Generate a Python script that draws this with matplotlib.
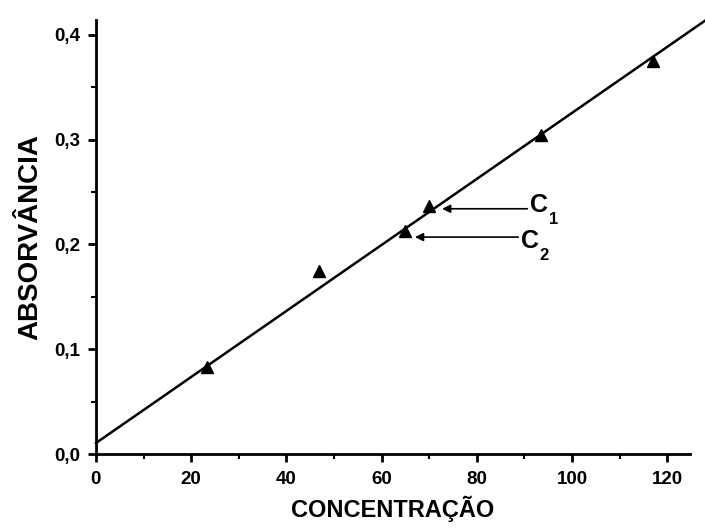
import matplotlib
matplotlib.use('Agg')
import matplotlib.pyplot as plt
from matplotlib.ticker import MultipleLocator, FuncFormatter

plt.rcParams['font.family'] = ['Liberation Sans', 'DejaVu Sans']

# calibration points
concentracao = [23.4, 46.9, 64.9, 70.0, 93.5, 116.9]
absorvancia = [0.083, 0.175, 0.213, 0.237, 0.304, 0.375]

# fitted line
intercept = 0.0105
slope = 0.00315
line_x = [0, 128]

# sample markers C1 / C2: arrow head and tail along the concentration axis
sample_subscripts = ['1', '2']
arrow_head_x = [72.7, 67.0]
arrow_head_y = [0.234, 0.207]
arrow_tail_x = [90.6, 88.7]
label_dy = [0.004, -0.004]

fig = plt.figure(figsize=(7.05, 5.28), dpi=100)
ax = fig.add_axes([0.136, 0.140, 0.843, 0.822])

line_y = [intercept + slope * x for x in line_x]
ax.plot(line_x, line_y, color='black', lw=1.8, clip_on=False, zorder=2)
ax.plot(concentracao, absorvancia, linestyle='none', marker='^',
        color='black', markersize=9, zorder=3)

for sub, hx, hy, tx, dy in zip(sample_subscripts, arrow_head_x, arrow_head_y,
                               arrow_tail_x, label_dy):
    ax.annotate('', xy=(hx, hy), xytext=(tx, hy),
                arrowprops=dict(arrowstyle='-|>', color='black', lw=1.2,
                                mutation_scale=12, shrinkA=0, shrinkB=0))
    ax.text(tx + 0.5, hy + dy, 'C', fontsize=18, fontweight='bold',
            va='center', ha='left')
    ax.text(tx + 4.5, hy + dy - 0.014, sub, fontsize=12, fontweight='bold',
            va='center', ha='left')

ax.set_xlim(0, 124.8)
ax.set_ylim(0, 0.414)

ax.spines['top'].set_visible(False)
ax.spines['right'].set_visible(False)
ax.spines['left'].set_linewidth(2)
ax.spines['bottom'].set_linewidth(2)

ax.xaxis.set_major_locator(MultipleLocator(20))
ax.xaxis.set_minor_locator(MultipleLocator(10))
ax.yaxis.set_major_locator(MultipleLocator(0.1))
ax.yaxis.set_minor_locator(MultipleLocator(0.05))
ax.yaxis.set_major_formatter(FuncFormatter(lambda v, p: f'{v:.1f}'.replace('.', ',')))

ax.tick_params(which='major', direction='out', length=6, width=2, labelsize=13.5)
ax.tick_params(which='minor', direction='out', length=3.5, width=1.5)
ax.tick_params(axis='x', which='major', pad=6)
ax.tick_params(axis='y', which='major', pad=5)
for lbl in ax.get_xticklabels() + ax.get_yticklabels():
    lbl.set_fontweight('bold')

ax.set_xlabel('CONCENTRAÇÃO', fontsize=17, fontweight='bold', labelpad=6)
ax.set_ylabel('ABSORVÂNCIA', fontsize=20, fontweight='bold', labelpad=8)

fig.savefig('out.png', dpi=100)
